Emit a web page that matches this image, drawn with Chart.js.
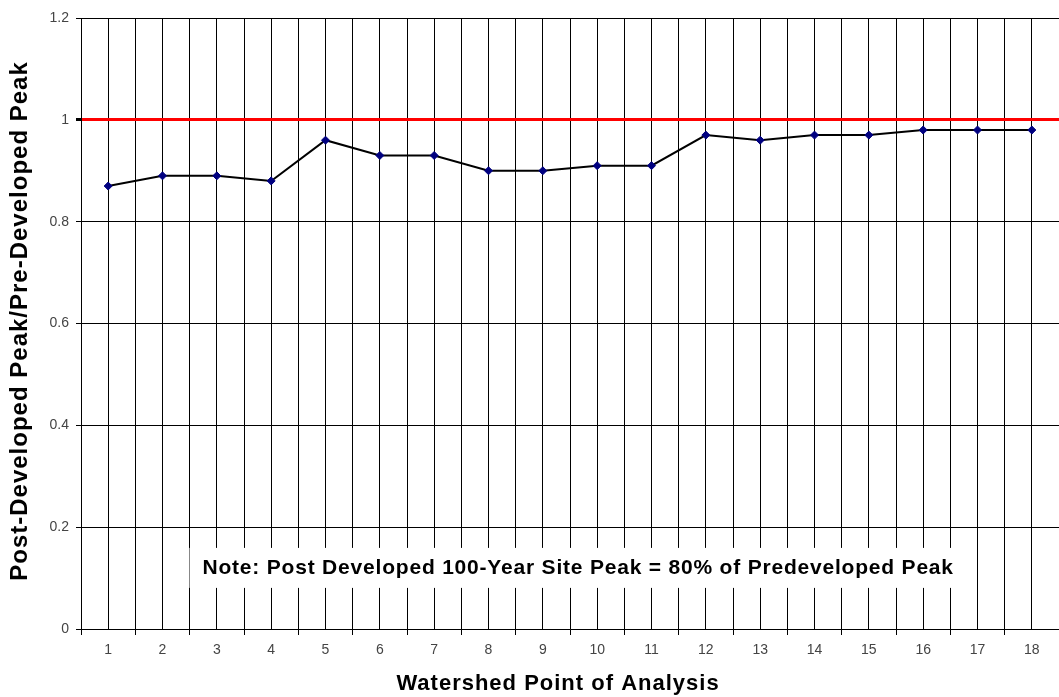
<!DOCTYPE html>
<html>
<head>
<meta charset="utf-8">
<script src="https://cdn.jsdelivr.net/npm/chart.js@4.4.1/dist/chart.umd.min.js"></script>
<style>
  html, body { margin: 0; padding: 0; background: #fff; overflow: hidden; }
  #wrap { width: 1066px; height: 697px; }
</style>
</head>
<body>
<div id="wrap"><canvas id="canvas"></canvas></div>
<script>
// watershed points and ratio post/pre developed peak
const points = [1, 2, 3, 4, 5, 6, 7, 8, 9, 10, 11, 12, 13, 14, 15, 16, 17, 18];
const ratios = [0.87, 0.89, 0.89, 0.88, 0.96, 0.93, 0.93, 0.90, 0.90, 0.91, 0.91, 0.97, 0.96, 0.97, 0.97, 0.98, 0.98, 0.98];
const limitValue = 1;
const noteText = "Note: Post Developed 100-Year Site Peak = 80% of Predeveloped Peak";
const xTitle = "Watershed Point of Analysis";
const yTitle = "Post-Developed Peak/Pre-Developed Peak";

const font = "'Liberation Sans', Arial, sans-serif";

// note box + axis titles (drawn by hand to get the wide letter spacing)
const textPlugin = {
  id: "texts",
  afterDatasetsDraw(chart) {
    const ctx = chart.ctx;
    const xs = chart.scales.x;
    const ys = chart.scales.y;
    ctx.save();
    ctx.textAlign = "center";
    ctx.textBaseline = "middle";

    // note
    const ny = ys.getPixelForValue(0.12);
    const nx = xs.getPixelForValue(9.65);
    ctx.font = "bold 21px " + font;
    ctx.letterSpacing = "0.8px";
    const w = ctx.measureText(noteText).width;
    ctx.fillStyle = "#fff";
    ctx.fillRect(nx - w / 2 - 13, ny - 20, w + 26, 40);
    ctx.fillStyle = "#000";
    ctx.fillText(noteText, nx, ny);

    // x title
    ctx.font = "bold 22px " + font;
    ctx.letterSpacing = "1px";
    ctx.fillText(xTitle, 558, 684);

    // y title
    ctx.font = "bold 24px " + font;
    ctx.letterSpacing = "1px";
    ctx.translate(20, 321);
    ctx.rotate(-Math.PI / 2);
    ctx.fillText(yTitle, 0, 0);
    ctx.restore();
  }
};

new Chart(document.getElementById("canvas"), {
  type: "line",
  data: {
    datasets: [
      {
        data: points.map((p, i) => ({ x: p, y: ratios[i] })),
        borderColor: "#000",
        borderWidth: 2,
        pointStyle: "rectRot",
        pointRadius: 4,
        pointBackgroundColor: "#000080",
        pointBorderColor: "#000080",
        pointBorderWidth: 1,
        tension: 0,
      },
    ],
  },
  options: {
    responsive: true,
    maintainAspectRatio: false,
    animation: false,
    layout: { padding: { top: 18, right: 2, left: 0, bottom: 0 } },
    plugins: {
      legend: { display: false },
      tooltip: { enabled: false },
    },
    scales: {
      x: {
        type: "linear",
        min: 0.5,
        max: 18.5,
        afterFit: (s) => { s.height = 68; },
        ticks: {
          stepSize: 0.5,
          autoSkip: false,
          color: "#444",
          font: { family: font, size: 14 },
          padding: 7,
          maxRotation: 0,
          callback: (v) => (Number.isInteger(v) ? String(v) : ""),
        },
        grid: {
          color: "#000",
          lineWidth: 1,
          tickLength: 6,
          tickColor: (c) => (Number.isInteger(c.tick.value) ? "rgba(0,0,0,0)" : "#000"),
        },
        border: { color: "#000", width: 1 },
      },
      y: {
        min: 0,
        max: 1.2,
        afterFit: (s) => { s.width = 81; },
        ticks: {
          stepSize: 0.2,
          color: "#444",
          font: { family: font, size: 14 },
          padding: 7,
          callback: (v) => String(Math.round(v * 10) / 10),
        },
        grid: {
          color: (c) => (Math.abs(c.tick.value - limitValue) < 1e-6 ? "#ff0000" : "#000"),
          lineWidth: (c) => (Math.abs(c.tick.value - limitValue) < 1e-6 ? 3 : 1),
          tickColor: "#000",
          tickLength: 5,
        },
        border: { color: "#000", width: 1 },
      },
    },
  },
  plugins: [textPlugin],
});
</script>
</body>
</html>
